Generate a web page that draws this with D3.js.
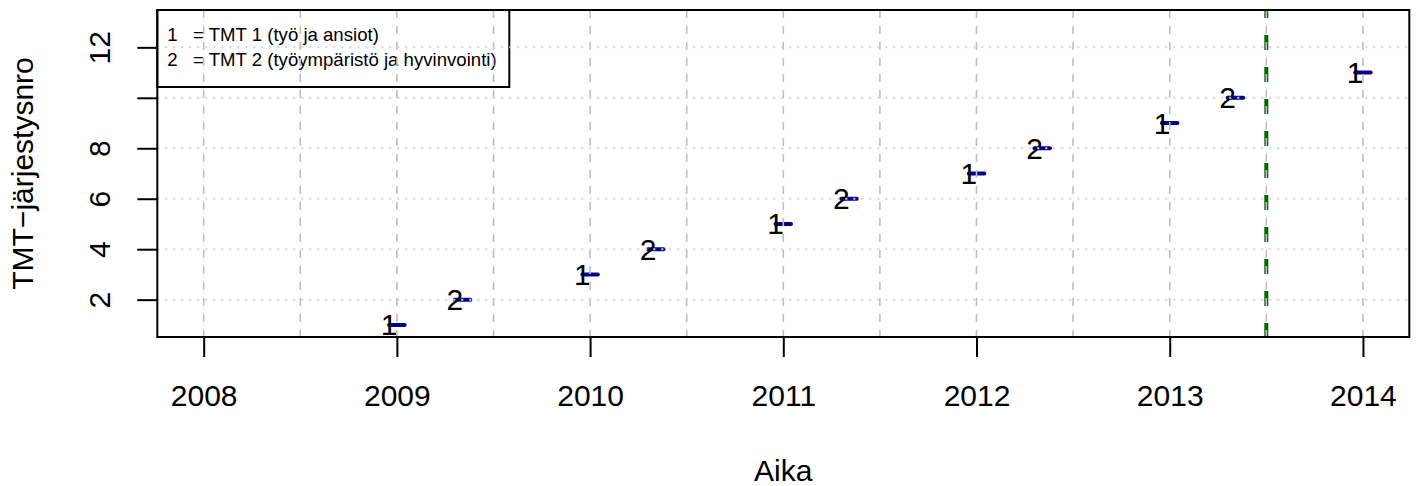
<!DOCTYPE html>
<html>
<head>
<meta charset="utf-8">
<script src="https://cdn.jsdelivr.net/npm/d3@7"></script>
<style>
  html, body { margin: 0; padding: 0; background: #ffffff; }
  svg { display: block; font-family: "Liberation Sans", Arial, Helvetica, sans-serif; }
</style>
</head>
<body>
<div id="chart"></div>
<script>
// ---- data ----
const codes   = ["1", "2", "1", "2", "1", "2", "1", "2", "1", "2", "1"];
const seqNo   = [1, 2, 3, 4, 5, 6, 7, 8, 9, 10, 11];
const starts  = [2008.96, 2009.30, 2009.96, 2010.30, 2010.96, 2011.30, 2011.96, 2012.30, 2012.96, 2013.30, 2013.96];
const ends    = [2009.04, 2009.38, 2010.04, 2010.38, 2011.04, 2011.38, 2012.04, 2012.38, 2013.04, 2013.38, 2014.04];
const xTicks  = [2008, 2009, 2010, 2011, 2012, 2013, 2014];
const xGrid   = [2008, 2008.5, 2009, 2009.5, 2010, 2010.5, 2011, 2011.5, 2012, 2012.5, 2013, 2013.5, 2014];
const yTicks  = [2, 4, 6, 8, 10, 12];
const yTickLabels = ["2", "4", "6", "8", "", "12"];
const markerX = [2013.5];
const legendCodes = ["1", "2"];
const legendTexts = ["= TMT 1 (työ ja ansiot)", "= TMT 2 (työympäristö ja hyvinvointi)"];
const xDomain = [2008, 2014];
const yDomain = [1, 13];

// ---- layout ----
const W = 1418, H = 486;
const plot = { left: 157.3, right: 1409.3, top: 10, bottom: 337 };
const pad = v => { const r = v[1] - v[0]; return [v[0] - 0.04 * r, v[1] + 0.04 * r]; };

const x = d3.scaleLinear().domain(pad(xDomain)).range([plot.left, plot.right]);
const y = d3.scaleLinear().domain(pad(yDomain)).range([plot.bottom, plot.top]);

const svg = d3.select("#chart").append("svg").attr("width", W).attr("height", H);

svg.append("defs").append("clipPath").attr("id", "pc")
  .append("rect").attr("x", plot.left).attr("y", plot.top)
  .attr("width", plot.right - plot.left).attr("height", plot.bottom - plot.top);

const inner = svg.append("g").attr("clip-path", "url(#pc)");

// green marker line
inner.selectAll("line.marker").data(markerX).enter().append("line")
  .attr("class", "marker")
  .attr("x1", d => x(d)).attr("x2", d => x(d))
  .attr("y1", plot.top).attr("y2", plot.bottom)
  .attr("stroke", "#006400").attr("stroke-width", 4)
  .attr("stroke-dasharray", "15,17").attr("stroke-dashoffset", 7);

// segments
const rows = codes.map((c, i) => ({ code: c, n: seqNo[i], s: starts[i], e: ends[i] }));
inner.selectAll("line.seg").data(rows).enter().append("line")
  .attr("class", "seg")
  .attr("x1", d => x(d.s)).attr("x2", d => x(d.e))
  .attr("y1", d => y(d.n)).attr("y2", d => y(d.n))
  .attr("stroke", "#00008B").attr("stroke-width", 4).attr("stroke-linecap", "round");

// code labels
inner.selectAll("text.code").data(rows).enter().append("text")
  .attr("class", "code")
  .attr("x", d => x(d.s)).attr("y", d => y(d.n) + 10.5)
  .attr("text-anchor", "middle").attr("font-size", 30).attr("fill", "#000")
  .text(d => d.code);

// legend (no background)
const leg = svg.append("g");
leg.append("rect").attr("x", plot.left).attr("y", plot.top)
  .attr("width", 509.3 - plot.left).attr("height", 87 - plot.top)
  .attr("fill", "none").attr("stroke", "#000").attr("stroke-width", 2);
legendCodes.forEach((c, i) => {
  const cy = 34.3 + i * 25;
  leg.append("text").attr("x", 172.5).attr("y", cy + 6.7).attr("text-anchor", "middle")
    .attr("font-size", 18.6).text(c);
  leg.append("text").attr("x", 193).attr("y", cy + 6.7).attr("text-anchor", "start")
    .attr("font-size", 18.6).text(legendTexts[i]);
});

// grid on top
const grid = svg.append("g").attr("clip-path", "url(#pc)");
grid.selectAll("line.vg").data(xGrid).enter().append("line")
  .attr("x1", d => x(d)).attr("x2", d => x(d))
  .attr("y1", plot.top).attr("y2", plot.bottom)
  .attr("stroke", "#bebebe").attr("stroke-width", 1.6)
  .attr("stroke-dasharray", "8,8");
grid.selectAll("line.hg").data(yTicks).enter().append("line")
  .attr("x1", plot.left).attr("x2", plot.right)
  .attr("y1", d => y(d)).attr("y2", d => y(d))
  .attr("stroke", "#d3d3d3").attr("stroke-width", 2)
  .attr("stroke-dasharray", "2,6");

// axes
const xAxis = svg.append("g").attr("transform", `translate(0,${plot.bottom})`)
  .call(d3.axisBottom(x).tickValues(xTicks).tickSize(20).tickFormat(d3.format("d")));
xAxis.select(".domain").remove();
xAxis.selectAll(".tick line").attr("stroke", "#000").attr("stroke-width", 2);
xAxis.selectAll(".tick text").attr("y", 69).attr("dy", 0)
  .attr("font-size", 30).attr("font-family", "Liberation Sans, Arial, sans-serif").attr("fill", "#000");

const yAxis = svg.append("g").attr("transform", `translate(${plot.left},0)`)
  .call(d3.axisLeft(y).tickValues(yTicks).tickSize(20).tickFormat((d, i) => yTickLabels[i]));
yAxis.select(".domain").remove();
yAxis.selectAll(".tick line").attr("stroke", "#000").attr("stroke-width", 2);
yAxis.selectAll(".tick text").attr("x", null).attr("dy", 0)
  .attr("transform", "translate(-47.3,0) rotate(-90)")
  .attr("text-anchor", "middle")
  .attr("font-size", 30).attr("font-family", "Liberation Sans, Arial, sans-serif").attr("fill", "#000");

// plot box
svg.append("rect").attr("x", plot.left).attr("y", plot.top)
  .attr("width", plot.right - plot.left).attr("height", plot.bottom - plot.top)
  .attr("fill", "none").attr("stroke", "#000").attr("stroke-width", 2);

// axis titles
svg.append("text").attr("x", (plot.left + plot.right) / 2).attr("y", 480.5)
  .attr("text-anchor", "middle").attr("font-size", 30).text("Aika");
svg.append("text").attr("transform", `translate(33.3,${(plot.top + plot.bottom) / 2}) rotate(-90)`)
  .attr("text-anchor", "middle").attr("font-size", 30).text("TMT−järjestysnro");
</script>
</body>
</html>
